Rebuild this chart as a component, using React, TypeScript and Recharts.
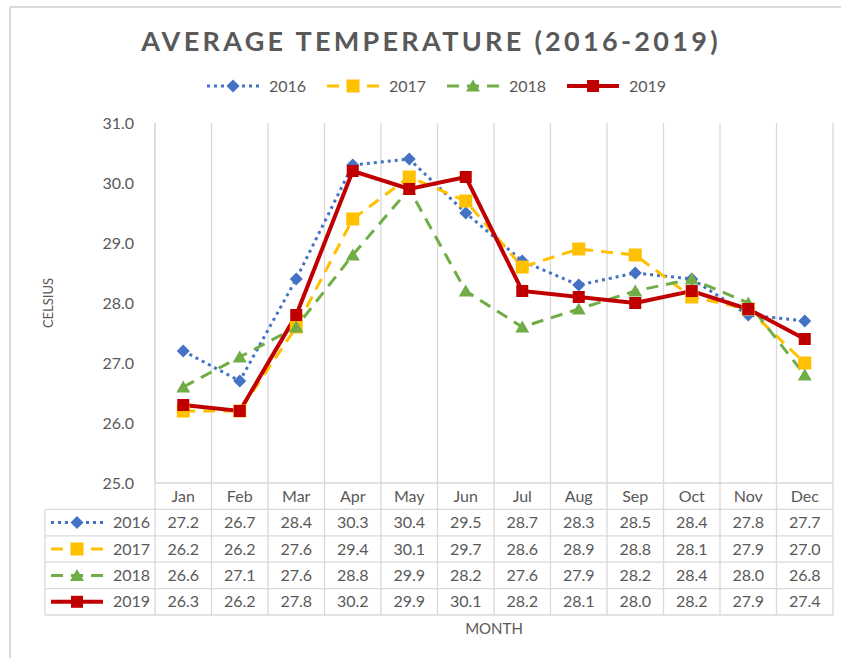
import React from 'react';
import { LineChart, Line, XAxis, YAxis, CartesianGrid } from 'recharts';

const months = ['Jan', 'Feb', 'Mar', 'Apr', 'May', 'Jun', 'Jul', 'Aug', 'Sep', 'Oct', 'Nov', 'Dec'];
const temps2016 = [27.2, 26.7, 28.4, 30.3, 30.4, 29.5, 28.7, 28.3, 28.5, 28.4, 27.8, 27.7];
const temps2017 = [26.2, 26.2, 27.6, 29.4, 30.1, 29.7, 28.6, 28.9, 28.8, 28.1, 27.9, 27.0];
const temps2018 = [26.6, 27.1, 27.6, 28.8, 29.9, 28.2, 27.6, 27.9, 28.2, 28.4, 28.0, 26.8];
const temps2019 = [26.3, 26.2, 27.8, 30.2, 29.9, 30.1, 28.2, 28.1, 28.0, 28.2, 27.9, 27.4];
const yTicks = [25, 26, 27, 28, 29, 30, 31];

type Shape = 'diamond' | 'square' | 'triangle';

const series = [
  { key: 's2016', name: '2016', values: temps2016, color: '#4472C4', dash: '3 4', width: 3, shape: 'diamond' as Shape },
  { key: 's2017', name: '2017', values: temps2017, color: '#FFC000', dash: '12 8', width: 3, shape: 'square' as Shape },
  { key: 's2018', name: '2018', values: temps2018, color: '#70AD47', dash: '12 8', width: 3, shape: 'triangle' as Shape },
  { key: 's2019', name: '2019', values: temps2019, color: '#C00000', dash: undefined, width: 4, shape: 'square' as Shape },
];

const data = months.map((month, i) => {
  const row: Record<string, string | number> = { month };
  series.forEach((s) => (row[s.key] = s.values[i]));
  return row;
});

// layout
const W = 841;
const H = 658;
const PLOT_LEFT = 155;
const PLOT_RIGHT = 833;
const PLOT_TOP = 123;
const PLOT_BOTTOM = 483;
const ROW_H = 26.4;
const TABLE_LEFT = 45;
const GRID = '#d9d9d9';
const TEXT = '#595959';
const FONT = 'Lato, "Noto Sans", sans-serif';
const COL_W = (PLOT_RIGHT - PLOT_LEFT) / months.length;

function Marker({ shape, color, cx, cy }: { shape: Shape; color: string; cx: number; cy: number }) {
  if (shape === 'diamond') {
    return <polygon points={`${cx},${cy - 6.5} ${cx + 6.5},${cy} ${cx},${cy + 6.5} ${cx - 6.5},${cy}`} fill={color} />;
  }
  if (shape === 'triangle') {
    return <polygon points={`${cx},${cy - 6.5} ${cx + 7},${cy + 5.5} ${cx - 7},${cy + 5.5}`} fill={color} />;
  }
  const s = color === '#FFC000' ? 13 : 12;
  return <rect x={cx - s / 2} y={cy - s / 2} width={s} height={s} fill={color} />;
}

function LegendIcon({ s, x, y }: { s: (typeof series)[number]; x: number; y: number }) {
  return (
    <g>
      <line x1={x} y1={y} x2={x + 52} y2={y} stroke={s.color} strokeWidth={s.width} strokeDasharray={s.dash} />
      <Marker shape={s.shape} color={s.color} cx={x + 26} cy={y} />
    </g>
  );
}

function Overlay() {
  const rowsY = Array.from({ length: series.length + 2 }, (_, i) => PLOT_BOTTOM + i * ROW_H);
  const tableBottom = rowsY[rowsY.length - 1];
  return (
    <svg width={W} height={H} style={{ position: 'absolute', left: 0, top: 0, pointerEvents: 'none' }}>
      {/* outer frame */}
      <line x1={10} y1={7} x2={10} y2={H} stroke={GRID} strokeWidth={2} />
      <line x1={10} y1={7} x2={W} y2={7} stroke={GRID} strokeWidth={2} />

      <text x={431} y={51} textAnchor="middle" fill={TEXT} fontFamily={FONT} fontWeight={700} fontSize={27} letterSpacing={3.3}>
        AVERAGE TEMPERATURE (2016-2019)
      </text>

      {series.map((s, i) => (
        <g key={s.key}>
          <LegendIcon s={s} x={207 + i * 120} y={86} />
          <text x={269 + i * 120} y={92} fill={TEXT} fontFamily={FONT} fontSize={16}>
            {s.name}
          </text>
        </g>
      ))}

      <text transform="translate(53, 303) rotate(-90)" textAnchor="middle" fill={TEXT} fontFamily={FONT} fontSize={13}>
        CELSIUS
      </text>

      {/* data table */}
      <line x1={PLOT_LEFT} y1={rowsY[0]} x2={PLOT_RIGHT} y2={rowsY[0]} stroke={GRID} strokeWidth={1.3} />
      {rowsY.slice(1).map((y) => (
        <line key={y} x1={TABLE_LEFT} y1={y} x2={PLOT_RIGHT} y2={y} stroke={GRID} strokeWidth={1.3} />
      ))}
      <line x1={TABLE_LEFT} y1={rowsY[1]} x2={TABLE_LEFT} y2={tableBottom} stroke={GRID} strokeWidth={1.3} />
      {Array.from({ length: months.length + 1 }, (_, i) => (
        <line
          key={i}
          x1={PLOT_LEFT + i * COL_W}
          y1={PLOT_BOTTOM}
          x2={PLOT_LEFT + i * COL_W}
          y2={tableBottom}
          stroke={GRID}
          strokeWidth={1.3}
        />
      ))}

      {months.map((m, i) => (
        <text key={m} x={PLOT_LEFT + (i + 0.5) * COL_W} y={rowsY[0] + ROW_H / 2 + 5.5} textAnchor="middle" fill={TEXT} fontFamily={FONT} fontSize={16}>
          {m}
        </text>
      ))}

      {series.map((s, r) => {
        const cy = rowsY[r + 1] + ROW_H / 2;
        return (
          <g key={s.key}>
            <LegendIcon s={s} x={51} y={cy} />
            <text x={150} y={cy + 5.5} textAnchor="end" fill={TEXT} fontFamily={FONT} fontSize={16}>
              {s.name}
            </text>
            {s.values.map((v, i) => (
              <text key={i} x={PLOT_LEFT + (i + 0.5) * COL_W} y={cy + 5.5} textAnchor="middle" fill={TEXT} fontFamily={FONT} fontSize={16}>
                {v.toFixed(1)}
              </text>
            ))}
          </g>
        );
      })}

      <text x={(PLOT_LEFT + PLOT_RIGHT) / 2} y={634} textAnchor="middle" fill={TEXT} fontFamily={FONT} fontSize={15}>
        MONTH
      </text>
    </svg>
  );
}

export default function App() {
  const yAxisWidth = 60;
  return (
    <div style={{ position: 'absolute', left: 0, top: 0, width: W, height: H, background: '#fff' }}>
      <LineChart
        width={W}
        height={H}
        data={data}
        margin={{ top: PLOT_TOP, right: W - PLOT_RIGHT, bottom: H - PLOT_BOTTOM, left: PLOT_LEFT - yAxisWidth }}
      >
        <CartesianGrid
          horizontal={false}
          stroke={GRID}
          strokeWidth={1.3}
          strokeDasharray="0"
          verticalCoordinatesGenerator={({ offset }: any) =>
            Array.from({ length: months.length + 1 }, (_, i) => offset.left + (i * offset.width) / months.length)
          }
        />
        <XAxis dataKey="month" hide padding={{ left: COL_W / 2, right: COL_W / 2 }} />
        <YAxis
          type="number"
          domain={[25, 31]}
          ticks={yTicks}
          width={yAxisWidth}
          tickFormatter={(v: number) => v.toFixed(1)}
          axisLine={{ stroke: GRID, strokeWidth: 1.3 }}
          tickLine={false}
          tickSize={0}
          tickMargin={21}
          tick={{ fill: TEXT, fontSize: 16, fontFamily: FONT }}
        />
        {series.map((s) => (
          <Line
            key={s.key}
            dataKey={s.key}
            name={s.name}
            stroke={s.color}
            strokeWidth={s.width}
            strokeDasharray={s.dash}
            isAnimationActive={false}
            dot={(p: any) => <Marker key={`${s.key}-${p.index}`} shape={s.shape} color={s.color} cx={p.cx} cy={p.cy} />}
            activeDot={false}
          />
        ))}
      </LineChart>
      <Overlay />
    </div>
  );
}
